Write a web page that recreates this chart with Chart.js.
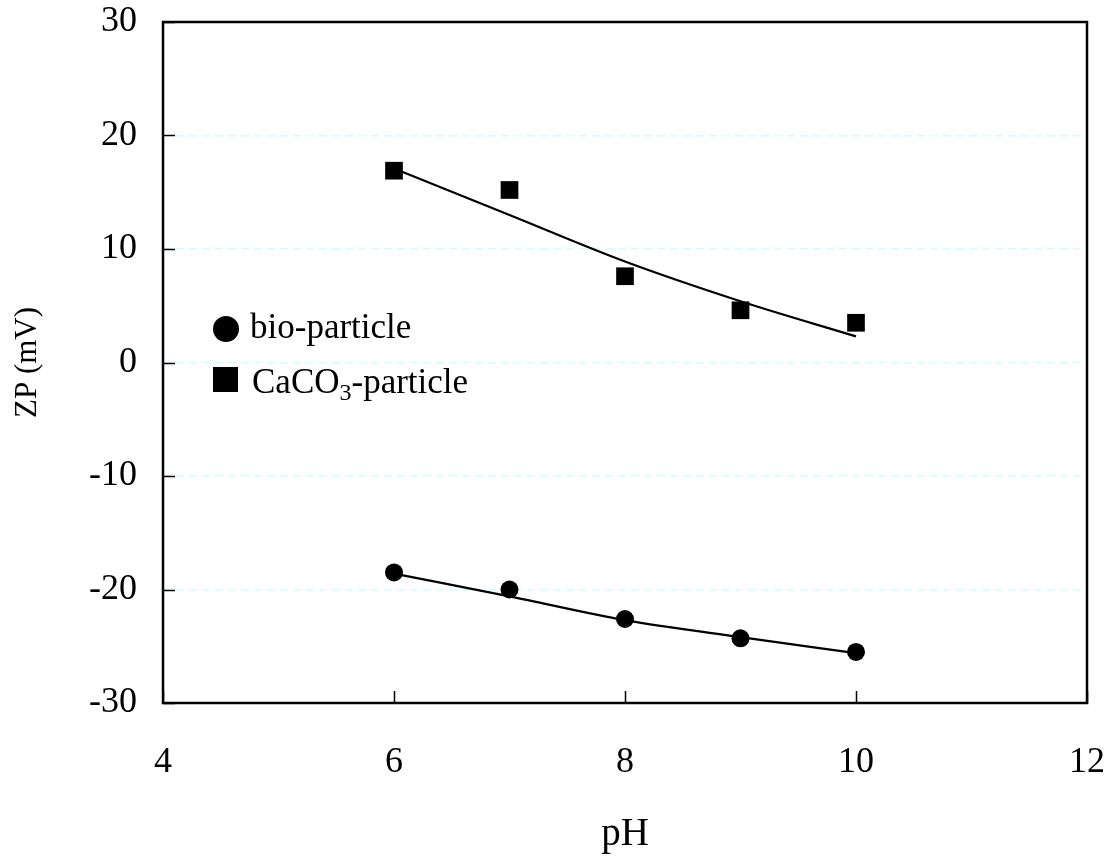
<!DOCTYPE html>
<html>
<head>
<meta charset="utf-8">
<script src="https://cdn.jsdelivr.net/npm/chart.js@4.4.0/dist/chart.umd.min.js"></script>
<style>
  body { margin: 0; background: #fff; }
  #wrap { width: 1118px; height: 858px; }
</style>
</head>
<body>
<div id="wrap"><canvas id="zp" width="1118" height="858"></canvas></div>
<script>
// values
const phValues = [6, 7, 8, 9, 10];
const bioZP = [-18.5, -20.0, -22.6, -24.3, -25.5];
const caco3ZP = [16.9, 15.2, 7.6, 4.6, 3.5];
// trend lines as drawn in the figure
const bioTrend = [-18.6, -20.6, -22.7, -24.2, -25.6];
const caco3Trend = [17.1, 13.0, 8.9, 5.4, 2.3];
const xTicks = [4, 6, 8, 10, 12];
const yTicks = [-30, -20, -10, 0, 10, 20, 30];
const legendLabels = ["bio-particle", ["CaCO", "3", "-particle"]];

const serif = "'Liberation Serif', 'Times New Roman', serif";

function toXY(xs, ys) {
  return xs.map((x, i) => ({ x: x, y: ys[i] }));
}

// inward tick marks and the frame
const frameTicks = {
  id: "frameTicks",
  afterDraw(chart) {
    const { ctx, chartArea: a, scales } = chart;
    ctx.save();
    ctx.strokeStyle = "#000";
    ctx.lineWidth = 1.5;
    ctx.beginPath();
    yTicks.forEach(v => {
      const y = Math.round(scales.y.getPixelForValue(v)) + 0.5;
      ctx.moveTo(a.left, y);
      ctx.lineTo(a.left + 12, y);
    });
    xTicks.forEach(v => {
      const x = Math.round(scales.x.getPixelForValue(v)) + 0.5;
      ctx.moveTo(x, a.bottom);
      ctx.lineTo(x, a.bottom - 12);
    });
    ctx.stroke();
    ctx.lineWidth = 2.5;
    ctx.strokeRect(a.left, a.top, a.right - a.left, a.bottom - a.top);
    ctx.restore();
  }
};

// legend with subscript
const subLegend = {
  id: "subLegend",
  afterDraw(chart) {
    const ctx = chart.ctx;
    ctx.save();
    ctx.fillStyle = "#000";
    ctx.beginPath();
    ctx.arc(226, 329, 13, 0, Math.PI * 2);
    ctx.fill();
    ctx.fillRect(213, 367, 25, 25);
    ctx.font = "35px " + serif;
    ctx.textBaseline = "alphabetic";
    ctx.fillText(legendLabels[0], 250, 338);
    let x = 252;
    const parts = legendLabels[1];
    ctx.fillText(parts[0], x, 393);
    x += ctx.measureText(parts[0]).width;
    ctx.font = "24px " + serif;
    ctx.fillText(parts[1], x, 400);
    x += ctx.measureText(parts[1]).width;
    ctx.font = "35px " + serif;
    ctx.fillText(parts[2], x, 393);
    ctx.restore();
  }
};

new Chart(document.getElementById("zp"), {
  "type": "scatter",
  "data": {
    "datasets": [
      {
        "label": "bio-particle",
        "data": toXY(phValues, bioZP),
        "pointStyle": "circle",
        "pointRadius": 9,
        "pointHoverRadius": 9,
        "backgroundColor": "#000",
        "borderColor": "#000",
        "borderWidth": 0,
        "order": 0
      },
      {
        "label": "CaCO3-particle",
        "data": toXY(phValues, caco3ZP),
        "pointStyle": "rect",
        "pointRadius": 12.5,
        "pointHoverRadius": 12.5,
        "backgroundColor": "#000",
        "borderColor": "#000",
        "borderWidth": 0,
        "order": 0
      },
      {
        "label": "bio trend",
        "data": toXY(phValues, bioTrend),
        "showLine": true,
        "pointRadius": 0,
        "borderColor": "#000",
        "borderWidth": 2.2,
        "cubicInterpolationMode": "monotone",
        "order": 1
      },
      {
        "label": "CaCO3 trend",
        "data": toXY(phValues, caco3Trend),
        "showLine": true,
        "pointRadius": 0,
        "borderColor": "#000",
        "borderWidth": 2.2,
        "cubicInterpolationMode": "monotone",
        "order": 1
      }
    ]
  },
  "options": {
    "responsive": false,
    "animation": false,
    "layout": { "padding": { "top": 22, "right": 31, "left": 0, "bottom": 0 } },
    "plugins": {
      "legend": { "display": false },
      "tooltip": { "enabled": false }
    },
    "scales": {
      "x": {
        "type": "linear",
        "min": 4,
        "max": 12,
        "afterBuildTicks": (s) => { s.ticks = xTicks.map(v => ({ value: v })); },
        "afterFit": (s) => {
          s.height = 155;
          s.paddingLeft = 0;
          s.paddingRight = 0;
        },
        "grid": { "display": false, "drawTicks": false },
        "border": { "display": false },
        "ticks": {
          "color": "#000",
          "padding": 38,
          "maxRotation": 0,
          "font": { "family": serif, "size": 36 }
        },
        "title": {
          "display": true,
          "text": "pH",
          "color": "#000",
          "padding": { "top": 10, "bottom": 0 },
          "font": { "family": serif, "size": 39 }
        }
      },
      "y": {
        "type": "linear",
        "min": -30,
        "max": 30,
        "afterBuildTicks": (s) => { s.ticks = yTicks.map(v => ({ value: v })); },
        "afterFit": (s) => {
          s.width = 163;
          s.paddingTop = 0;
          s.paddingBottom = 0;
        },
        "grid": {
          "color": "#ccffff",
          "lineWidth": 1.5,
          "drawTicks": false
        },
        "border": { "display": false, "dash": [8, 5] },
        "ticks": {
          "color": "#000",
          "padding": 26,
          "font": { "family": serif, "size": 36 }
        },
        "title": {
          "display": true,
          "text": "ZP (mV)",
          "color": "#000",
          "padding": { "top": 9, "bottom": 0 },
          "font": { "family": serif, "size": 31 }
        }
      }
    }
  },
  "plugins": [frameTicks, subLegend]
});
</script>
</body>
</html>
